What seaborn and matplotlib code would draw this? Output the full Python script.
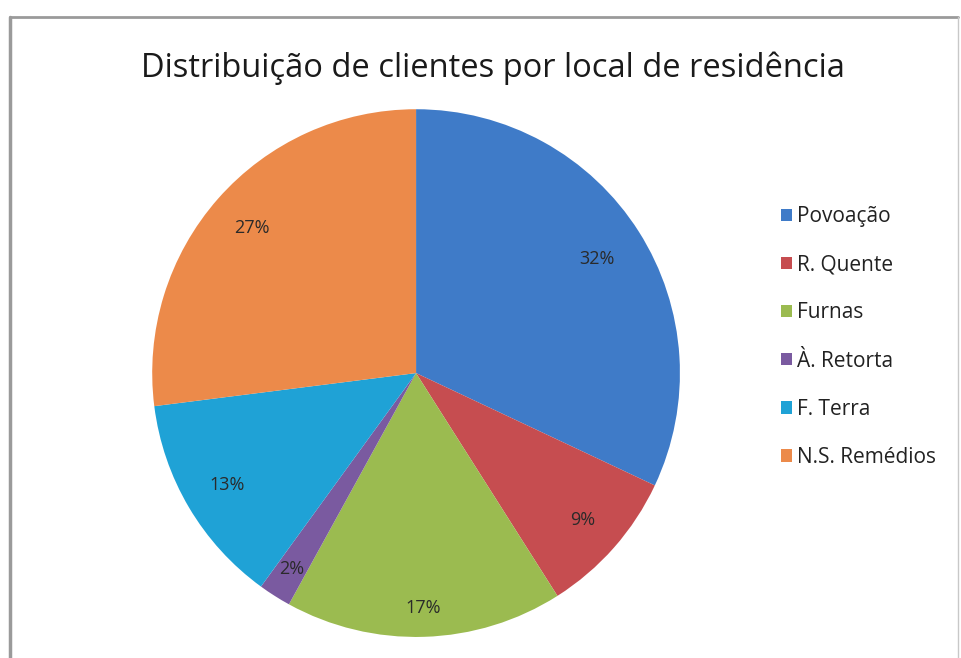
import matplotlib
matplotlib.use("Agg")
import matplotlib.pyplot as plt
import seaborn as sns
from matplotlib.lines import Line2D

# data
locais = ['Povoação', 'R. Quente', 'Furnas', 'À. Retorta', 'F. Terra', 'N.S. Remédios']
percentagens = [32, 9, 17, 2, 13, 27]
cores = ['#3f7bc8', '#c64d50', '#9bbb50', '#7a5aa0', '#1fa2d6', '#ec8a4a']
# how far out each % label sits (Excel "best fit" look)
dist_rotulos = [0.81, 0.84, 0.89, 0.88, 0.83, 0.83]

sns.set_style("white")
plt.rcParams['font.family'] = ['Open Sans', 'DejaVu Sans']

fig = plt.figure(figsize=(9.62, 6.58), dpi=100)
ax = fig.add_axes([0.158, 0.032, 0.549, 0.802])

wedges, texts, autotexts = ax.pie(
    percentagens, colors=cores, startangle=90, counterclock=False,
    autopct='%1.0f%%', pctdistance=1.0, radius=1,
    textprops={'fontsize': 13, 'color': '#2a2a2a'},
    wedgeprops={'linewidth': 0})
for t, d in zip(autotexts, dist_rotulos):
    x, y = t.get_position()
    t.set_position((x * d, y * d))

ax.set_xlim(-1, 1)
ax.set_ylim(-1, 1)
ax.set_aspect('equal')
ax.axis('off')

fig.text(0.512, 1 - 68 / 658, 'Distribuição de clientes por local de residência',
         ha='center', va='center', fontsize=23.5, color='#1a1a1a')

leg = fig.legend(wedges, locais, loc='center left',
                 bbox_to_anchor=(762 / 962, 1 - 337 / 658),
                 frameon=False, fontsize=15, handlelength=0.55, handleheight=0.55,
                 handletextpad=0.25, labelspacing=1.3)
for t in leg.get_texts():
    t.set_color('#222222')

# chart frame
fig.add_artist(Line2D([10 / 962, 10 / 962], [0, 1 - 17 / 658], color='#9a9a9a', lw=2.5))
fig.add_artist(Line2D([10 / 962, 958 / 962], [1 - 17 / 658, 1 - 17 / 658], color='#9a9a9a', lw=2))
fig.add_artist(Line2D([958 / 962, 958 / 962], [0, 1 - 17 / 658], color='#c8c8c8', lw=1))

fig.savefig('out.png', dpi=100)
